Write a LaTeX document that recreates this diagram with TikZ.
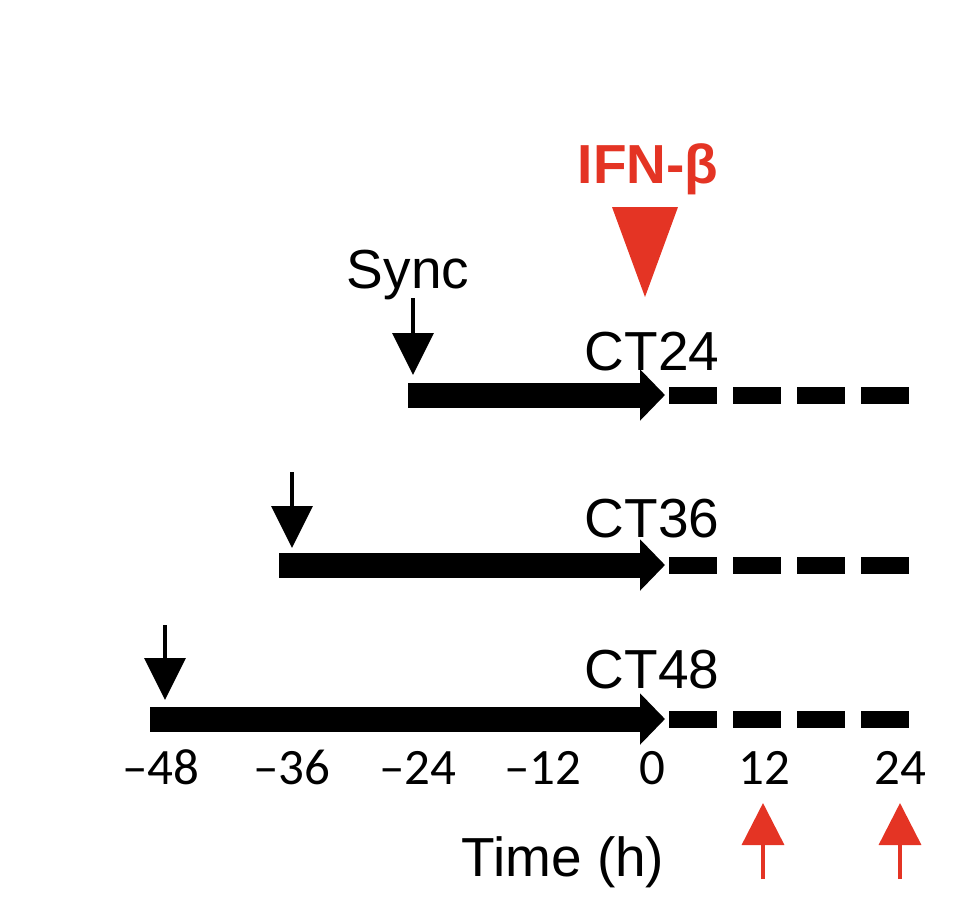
\documentclass[tikz,border=0pt]{standalone}
\usepackage{fontspec}
\setmainfont{Liberation Sans}
\newfontfamily\tickfont{Carlito}
\usetikzlibrary{arrows.meta}
\definecolor{ifnred}{RGB}{228,52,36}
\tikzset{
	bar/.style={line width=25pt, -{Triangle[length=25pt, width=50pt]}},
	dashbar/.style={line width=17pt, dash pattern=on 48pt off 16pt},
	sync/.style={line width=3.5pt, -{Triangle[length=42pt, width=41pt]}},
	harvest/.style={ifnred, line width=3.5pt, -{Triangle[length=42pt, width=42pt]}},
	lbl/.style={inner sep=0pt, anchor=base, font=\fontsize{55}{60}\selectfont},
	tick/.style={inner sep=0pt, anchor=base, font=\tickfont\fontsize{51}{56}\selectfont}
}

\begin{document}
\begin{tikzpicture}[x=1pt, y=-1pt]
		\useasboundingbox (0,0) rectangle (971,910);
		\coordinate (b24) at (408,395); \coordinate (t24) at (665,395); \coordinate (e24) at (910,395);
		\coordinate (b36) at (279,565); \coordinate (t36) at (665,565); \coordinate (e36) at (910,565);
		\coordinate (b48) at (150,719); \coordinate (t48) at (665,719); \coordinate (e48) at (910,719);
		\coordinate (s24) at (413,298); \coordinate (s36) at (292,472); \coordinate (s48) at (165,625);
		\coordinate (h12) at (763,879); \coordinate (h24) at (900,879);

		\node[lbl, font=\bfseries\fontsize{55}{60}\selectfont, text=ifnred] (ifn) at (648,183) {IFN-β};
		\fill[ifnred] (612,207) -- (678,207) -- (645,297) -- cycle;

		\node[lbl] (sync) at (408,288) {Sync};
		\node[lbl] (ct24) at (652,370) {CT24};
		\node[lbl] (ct36) at (652,537) {CT36};
		\node[lbl] (ct48) at (652,688) {CT48};

		\draw[sync] (s24) -- ++(0,77);
		\draw[sync] (s36) -- ++(0,76);
		\draw[sync] (s48) -- ++(0,75);

		\draw[bar] (b24) -- (t24);
		\draw[bar] (b36) -- (t36);
		\draw[bar] (b48) -- (t48);
		\draw[dashbar] ([xshift=4pt]t24) -- (e24);
		\draw[dashbar] ([xshift=4pt]t36) -- (e36);
		\draw[dashbar] ([xshift=4pt]t48) -- (e48);

		\node[tick] (m48) at (161,784) {–48};
		\node[tick] (m36) at (292,784) {–36};
		\node[tick] (m24) at (418,784) {–24};
		\node[tick] (m12) at (543,784) {–12};
		\node[tick] (p0) at (652,784) {0};
		\node[tick] (p12) at (764,784) {12};
		\node[tick] (p24) at (900,784) {24};
		\node[lbl] (time) at (563,876) {Time (h)};

		\draw[harvest] (h12) -- ++(0,-76);
		\draw[harvest] (h24) -- ++(0,-76);
	\end{tikzpicture}
\end{document}
